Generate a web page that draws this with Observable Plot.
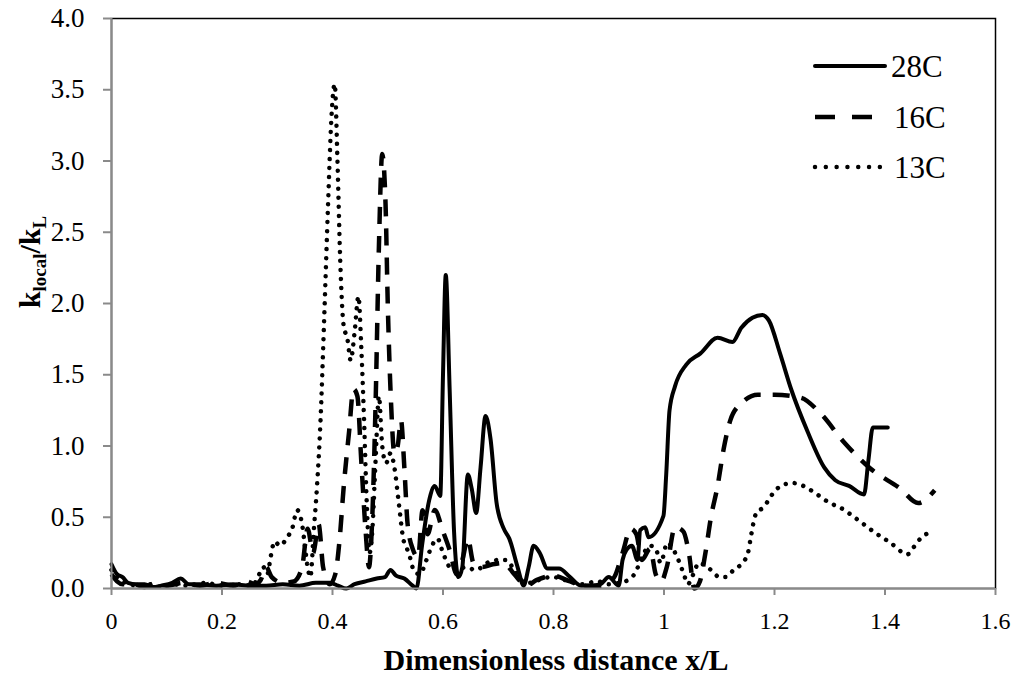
<!DOCTYPE html>
<html><head><meta charset="utf-8">
<script src="https://cdn.jsdelivr.net/npm/d3@7"></script>
<script src="https://cdn.jsdelivr.net/npm/@observablehq/plot@0.6"></script>
<style>body{margin:0;background:#fff}#chart{width:1016px;height:677px}</style>
</head><body><div id="chart"></div>
<script>
const seriesNames = ["28C", "16C", "13C"];

const x28 = [0,0.01,0.02,0.03,0.045,0.06,0.075,0.09,0.11,0.125,0.14,0.16,0.19,0.22,0.25,0.28,0.31,0.34,0.37,0.395,0.41,0.425,0.44,0.46,0.48,0.495,0.505,0.515,0.53,0.545,0.552,0.562,0.575,0.585,0.595,0.6,0.605,0.612,0.62,0.628,0.635,0.645,0.652,0.66,0.668,0.677,0.686,0.697,0.71,0.72,0.735,0.746,0.755,0.764,0.775,0.789,0.81,0.83,0.85,0.87,0.885,0.9,0.918,0.925,0.932,0.942,0.952,0.957,0.966,0.972,0.999,1.004,1.01,1.02,1.04,1.066,1.097,1.124,1.14,1.16,1.178,1.19,1.21,1.23,1.26,1.29,1.31,1.335,1.362,1.37,1.378,1.405];
const y28 = [0.17,0.1,0.08,0.04,0.03,0.03,0.01,0.02,0.04,0.07,0.03,0.03,0.02,0.03,0.02,0.02,0.03,0.02,0.04,0.04,0.02,0.0,0.03,0.05,0.07,0.08,0.13,0.09,0.07,0.02,0.0,0.3,0.62,0.72,0.65,1.5,2.2,1.4,0.4,0.08,0.15,0.8,0.7,0.53,0.85,1.21,1.05,0.6,0.42,0.35,0.15,0.02,0.15,0.3,0.25,0.14,0.14,0.08,0.02,0.02,0.03,0.08,0.02,0.2,0.27,0.3,0.2,0.41,0.43,0.36,0.51,0.8,1.25,1.42,1.57,1.65,1.76,1.73,1.83,1.9,1.92,1.88,1.65,1.4,1.1,0.85,0.76,0.72,0.66,0.9,1.13,1.13];

const x16 = [0,0.01,0.02,0.04,0.06,0.08,0.1,0.13,0.16,0.19,0.22,0.245,0.26,0.27,0.28,0.29,0.31,0.33,0.345,0.355,0.365,0.375,0.383,0.395,0.405,0.413,0.42,0.43,0.438,0.445,0.452,0.46,0.466,0.472,0.478,0.484,0.49,0.496,0.5,0.506,0.512,0.518,0.524,0.53,0.536,0.545,0.555,0.563,0.572,0.585,0.6,0.612,0.625,0.635,0.645,0.655,0.67,0.69,0.71,0.725,0.74,0.75,0.77,0.8,0.83,0.86,0.89,0.91,0.925,0.94,0.95,0.96,0.975,0.985,0.995,1.005,1.02,1.035,1.045,1.055,1.065,1.075,1.085,1.097,1.108,1.12,1.14,1.17,1.2,1.247,1.283,1.325,1.374,1.428,1.46,1.49];
const y16 = [0.1,0.05,0.03,0.03,0.01,0.04,0.02,0.04,0.02,0.04,0.02,0.05,0.03,0.06,0.15,0.08,0.04,0.05,0.15,0.42,0.25,0.45,0.15,0.03,0.1,0.35,0.7,1.1,1.4,1.35,0.9,0.4,0.15,0.5,1.3,2.4,3.05,2.7,2.0,1.3,0.95,1.0,1.18,0.85,0.45,0.28,0.22,0.55,0.38,0.55,0.4,0.27,0.1,0.2,0.35,0.18,0.15,0.17,0.18,0.12,0.05,0.02,0.06,0.09,0.05,0.02,0.02,0.08,0.25,0.42,0.38,0.2,0.28,0.1,0.05,0.15,0.43,0.4,0.25,0.0,0.05,0.25,0.5,0.72,0.98,1.18,1.3,1.36,1.36,1.34,1.23,1.03,0.84,0.7,0.6,0.69];

const x13 = [0,0.01,0.02,0.035,0.05,0.07,0.09,0.11,0.14,0.17,0.2,0.23,0.255,0.265,0.275,0.282,0.288,0.295,0.305,0.318,0.327,0.336,0.345,0.35,0.355,0.36,0.366,0.372,0.378,0.385,0.392,0.398,0.404,0.409,0.414,0.42,0.427,0.433,0.44,0.447,0.452,0.457,0.462,0.467,0.472,0.478,0.484,0.49,0.497,0.505,0.512,0.52,0.528,0.538,0.548,0.558,0.57,0.58,0.59,0.6,0.612,0.625,0.64,0.66,0.68,0.7,0.715,0.73,0.745,0.76,0.78,0.8,0.82,0.85,0.88,0.9,0.92,0.935,0.948,0.96,0.975,0.985,0.994,1.006,1.016,1.026,1.036,1.043,1.053,1.063,1.075,1.088,1.1,1.112,1.126,1.142,1.152,1.158,1.166,1.18,1.202,1.217,1.234,1.252,1.27,1.3,1.318,1.348,1.379,1.41,1.441,1.452,1.464,1.485];
const y13 = [0.13,0.08,0.05,0.03,0.01,0.03,0.01,0.03,0.02,0.04,0.02,0.03,0.02,0.08,0.15,0.1,0.22,0.33,0.3,0.36,0.42,0.55,0.45,0.3,0.15,0.08,0.4,0.72,1.15,1.9,2.7,3.3,3.54,3.0,2.3,1.85,1.75,1.6,1.8,2.05,1.7,1.2,0.6,0.25,0.4,0.9,1.35,1.0,0.88,0.95,0.85,0.6,0.35,0.25,0.12,0.1,0.2,0.3,0.35,0.25,0.15,0.12,0.15,0.13,0.18,0.2,0.2,0.12,0.05,0.04,0.07,0.08,0.06,0.03,0.05,0.03,0.04,0.06,0.11,0.22,0.3,0.28,0.18,0.32,0.28,0.2,0.1,0.03,0.1,0.18,0.16,0.12,0.08,0.08,0.13,0.18,0.25,0.38,0.52,0.57,0.69,0.73,0.74,0.72,0.68,0.6,0.57,0.49,0.4,0.32,0.24,0.29,0.35,0.4];

const xTicks = [0, 0.2, 0.4, 0.6, 0.8, 1, 1.2, 1.4, 1.6];
const xTickLabels = ["0", "0.2", "0.4", "0.6", "0.8", "1", "1.2", "1.4", "1.6"];
const yTicks = [0, 0.5, 1, 1.5, 2, 2.5, 3, 3.5, 4];
const yTickLabels = ["0.0", "0.5", "1.0", "1.5", "2.0", "2.5", "3.0", "3.5", "4.0"];
const xTitle = "Dimensionless distance x/L";

function rowsOf(name, xs, ys) { return xs.map((x, i) => ({series: name, x, y: ys[i]})); }
const d28 = rowsOf(seriesNames[0], x28, y28);
const d16 = rowsOf(seriesNames[1], x16, y16);
const d13 = rowsOf(seriesNames[2], x13, y13);

const lineStyle = {
  "28C": {strokeWidth: 4, strokeDasharray: null, cap: "round"},
  "16C": {strokeWidth: 4.5, strokeDasharray: "17,12", cap: "butt"},
  "13C": {strokeWidth: 4.5, strokeDasharray: "0.01,9", cap: "round"}
};
const legendDash = {"28C": null, "16C": "20,17", "13C": "0.01,10.8"};

const serif = "'Liberation Serif', 'Times New Roman', serif";

function lineMark(data, name) {
  const s = lineStyle[name];
  return Plot.line(data, {x: "x", y: "y", curve: "monotone-x", stroke: "#000",
    strokeWidth: s.strokeWidth, strokeDasharray: s.strokeDasharray, strokeLinecap: s.cap, strokeLinejoin: "round"});
}

const plot = Plot.plot({
  width: 1016, height: 677,
  marginLeft: 111, marginRight: 21, marginTop: 18, marginBottom: 89,
  style: {fontFamily: serif, fontSize: "24px", color: "#000", background: "#fff", overflow: "visible"},
  x: {domain: [0, 1.6]},
  y: {domain: [0, 4]},
  marks: [
    Plot.frame({stroke: "#000", strokeWidth: 1.5}),
    lineMark(d13, "13C"),
    lineMark(d16, "16C"),
    lineMark(d28, "28C"),
    Plot.ruleX([0], {stroke: "#8a8a8a", strokeWidth: 2}),
    Plot.ruleY([0], {stroke: "#8a8a8a", strokeWidth: 2}),
    Plot.axisX({ticks: xTicks, tickFormat: d => xTickLabels[xTicks.indexOf(d)], tickSize: 7, tickPadding: 16, label: null, stroke: "#8a8a8a", strokeWidth: 2}),
    Plot.axisY({ticks: yTicks, tickFormat: d => yTickLabels[yTicks.indexOf(d)], tickSize: 8, tickPadding: 19, label: null, stroke: "#8a8a8a", strokeWidth: 2, fontSize: 27})
  ]
});

const svg = d3.select(plot);
svg.attr("font-family", serif);
svg.selectAll('g[aria-label="x-axis tick label"], g[aria-label="y-axis tick label"]')
  .attr("fill", "#000").attr("font-family", serif).style("font-family", serif);

// x title
svg.append("text").attr("x", 556).attr("y", 670).attr("text-anchor", "middle")
  .attr("font-family", serif).attr("font-weight", "bold").attr("font-size", 30).attr("fill", "#000")
  .text(xTitle);

// y title
const yt = svg.append("text").attr("transform", "translate(40,262) rotate(-90)").attr("text-anchor", "middle")
  .attr("font-family", serif).attr("font-weight", "bold").attr("font-size", 30).attr("fill", "#000");
yt.append("tspan").text("k");
yt.append("tspan").attr("font-size", 19).attr("dy", 6).text("local");
yt.append("tspan").attr("dy", -6).text("/k");
yt.append("tspan").attr("font-size", 19).attr("dy", 6).text("L");

// legend
const legendY = [66, 117, 167];
seriesNames.forEach((name, i) => {
  const s = lineStyle[name];
  svg.append("line").attr("x1", 815).attr("x2", 885).attr("y1", legendY[i]).attr("y2", legendY[i])
    .attr("stroke", "#000").attr("stroke-width", s.strokeWidth)
    .attr("stroke-dasharray", legendDash[name]).attr("stroke-linecap", s.cap);
  svg.append("text").attr("x", i === 0 ? 891 : 894).attr("y", legendY[i] + 11)
    .attr("text-anchor", "start")
    .attr("font-family", serif).attr("font-size", 31).attr("fill", "#000").text(name);
});

document.getElementById("chart").appendChild(plot);
</script>
</body></html>
